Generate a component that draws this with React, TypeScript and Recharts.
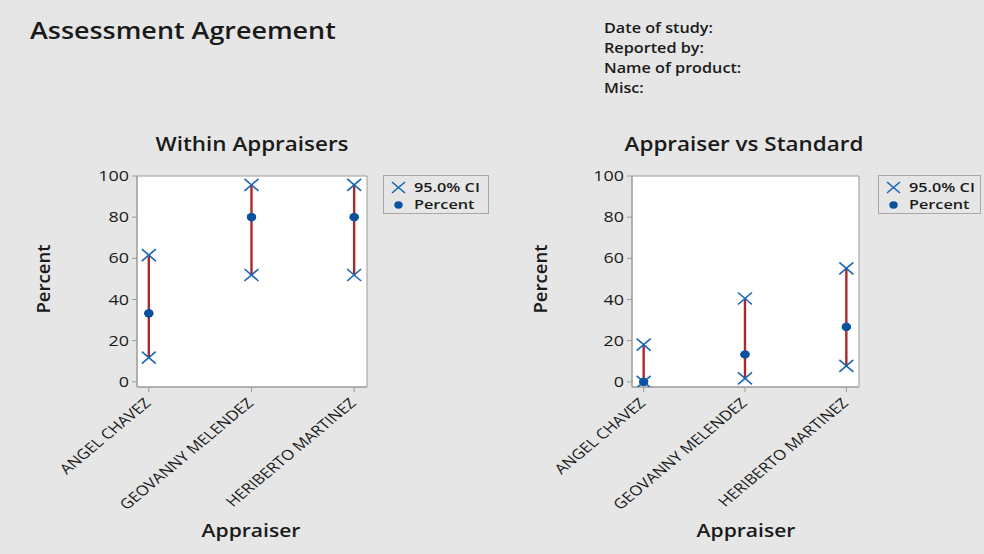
import { ComposedChart, Scatter, XAxis, YAxis, ErrorBar, ReferenceArea } from "recharts";

const appraisers = ["ANGEL CHAVEZ", "GEOVANNY MELENDEZ", "HERIBERTO MARTINEZ"];
const withinPercent = [33.3, 80.0, 80.0];
const withinLower = [11.8, 51.9, 51.9];
const withinUpper = [61.6, 95.7, 95.7];
const standardPercent = [0, 13.3, 26.7];
const standardLower = [0, 1.7, 7.8];
const standardUpper = [18.1, 40.5, 55.1];
const yTicks = [0, 20, 40, 60, 80, 100];
const infoLines = ["Date of study:", "Reported by:", "Name of product:", "Misc:"];

const FONT = "'Open Sans', 'Noto Sans', sans-serif";
const TEXT = "#1a1a1a";
const BLUE_X = "#1a64b4";
const BLUE_DOT = "#0a52a0";
const RED = "#a82a2a";
const AXIS = "#9a9a9a";

function buildPoints(pct: number[], lo: number[], hi: number[]) {
  return pct.map((p, i) => ({ x: i + 1, y: p, err: [p - lo[i], hi[i] - p] }));
}
function buildCi(lo: number[], hi: number[]) {
  return lo.flatMap((l, i) => [{ x: i + 1, y: l }, { x: i + 1, y: hi[i] }]);
}

const CrossShape = (props: any) => {
  const { cx, cy } = props;
  const sx = 7;
  const sy = 6;
  return (
    <g stroke={BLUE_X} strokeWidth={1.6}>
      <line x1={cx - sx} y1={cy - sy} x2={cx + sx} y2={cy + sy} />
      <line x1={cx - sx} y1={cy + sy} x2={cx + sx} y2={cy - sy} />
    </g>
  );
};

const DotShape = (props: any) => <ellipse cx={props.cx} cy={props.cy} rx={4.6} ry={4.1} fill={BLUE_DOT} />;

// the whole Minitab picture is stretched ~1.2x horizontally
const AppraiserTick = (props: any) => {
  const { x, y, payload } = props;
  return (
    <g transform={`translate(${x + 3},${y + 10}) scale(1.2,1) rotate(-45)`}>
      <text textAnchor="end" fontSize={14} fill={TEXT} fontFamily={FONT}>
        {appraisers[payload.value - 1]}
      </text>
    </g>
  );
};

const PercentTick = (props: any) => {
  const { x, y, payload } = props;
  return (
    <g transform={`translate(${x},${y})`}>
      <text transform="scale(1.28,1)" textAnchor="end" dy="0.36em" fontSize={14} fill={TEXT} fontFamily={FONT}>
        {payload.value}
      </text>
    </g>
  );
};

function Panel({ left, width, pct, lo, hi, marginLeft, marginRight }: any) {
  const points = buildPoints(pct, lo, hi);
  const ci = buildCi(lo, hi);
  return (
    <div style={{ position: "absolute", left, top: 0 }}>
      <ComposedChart
        width={width}
        height={554}
        margin={{ top: 176, right: marginRight, bottom: 0, left: marginLeft }}
      >
        <XAxis
          type="number"
          dataKey="x"
          domain={[0.885, 3.125]}
          ticks={[1, 2, 3]}
          allowDataOverflow
          height={167}
          tick={<AppraiserTick />}
          tickLine={{ stroke: AXIS }}
          axisLine={{ stroke: AXIS }}
          tickSize={5}
        />
        <YAxis
          type="number"
          dataKey="y"
          domain={[-2.5, 100]}
          ticks={yTicks}
          allowDataOverflow
          width={60}
          tick={<PercentTick />}
          tickLine={{ stroke: AXIS }}
          axisLine={{ stroke: AXIS }}
          tickSize={5}
          tickMargin={3}
        />
        <ReferenceArea x1={0.885} x2={3.125} y1={-2.5} y2={100} fill="#ffffff" fillOpacity={1} stroke={AXIS} />
        <Scatter data={points} dataKey="y" shape={<DotShape />} isAnimationActive={false}>
          <ErrorBar dataKey="err" direction="y" width={0} stroke={RED} strokeWidth={2.4} />
        </Scatter>
        <Scatter data={ci} dataKey="y" shape={<CrossShape />} isAnimationActive={false} />
        <Scatter data={points} dataKey="y" shape={<DotShape />} isAnimationActive={false} />
      </ComposedChart>
    </div>
  );
}

const legendText = (top: number, text: string) => (
  <div
    style={{
      position: "absolute",
      left: 30,
      top,
      lineHeight: "17px",
      whiteSpace: "nowrap",
      transform: "scaleX(1.3)",
      transformOrigin: "left center",
    }}
  >
    {text}
  </div>
);

function LegendBox({ left, width }: { left: number; width: number }) {
  return (
    <div
      style={{
        position: "absolute",
        left,
        top: 175,
        width,
        height: 39,
        boxSizing: "border-box",
        border: "1px solid #a8a8a8",
        background: "#e6e6e6",
        fontFamily: FONT,
        fontSize: 12.5,
        fontWeight: 600,
        color: TEXT,
      }}
    >
      <svg width={24} height={37} style={{ position: "absolute", left: 4, top: 0 }}>
        <g stroke={BLUE_X} strokeWidth={1.6}>
          <line x1={4} y1={6} x2={17} y2={17} />
          <line x1={4} y1={17} x2={17} y2={6} />
        </g>
        <ellipse cx={10.5} cy={29} rx={4.2} ry={3.7} fill={BLUE_DOT} />
      </svg>
      {legendText(3, "95.0% CI")}
      {legendText(20, "Percent")}
    </div>
  );
}

const centered = (x: number, y: number, size: number, text: string, scale: number, rotate = 0) => (
  <div
    style={{
      position: "absolute",
      left: x,
      top: y,
      transform: `translate(-50%, -50%) rotate(${rotate}deg) scaleX(${scale})`,
      whiteSpace: "nowrap",
      fontFamily: FONT,
      fontSize: size,
      fontWeight: 600,
      color: TEXT,
    }}
  >
    {text}
  </div>
);

export default function App() {
  return (
    <div
      style={{
        position: "absolute",
        left: 0,
        top: 0,
        width: 984,
        height: 554,
        background: "#e6e6e6",
        overflow: "hidden",
        fontFamily: FONT,
      }}
    >
      <div
        style={{
          position: "absolute",
          left: 30,
          top: 14,
          fontSize: 23,
          fontWeight: 600,
          color: TEXT,
          whiteSpace: "nowrap",
          transform: "scaleX(1.17)",
          transformOrigin: "left center",
        }}
      >
        Assessment Agreement
      </div>
      <div
        style={{
          position: "absolute",
          left: 604,
          top: 18,
          fontSize: 13.5,
          fontWeight: 600,
          color: TEXT,
          lineHeight: "20px",
          whiteSpace: "nowrap",
          transform: "scaleX(1.2)",
          transformOrigin: "left center",
        }}
      >
        {infoLines.map((l) => (
          <div key={l}>{l}</div>
        ))}
      </div>

      <Panel left={0} width={490} pct={withinPercent} lo={withinLower} hi={withinUpper} marginLeft={77} marginRight={123} />
      <Panel left={492} width={492} pct={standardPercent} lo={standardLower} hi={standardUpper} marginLeft={80} marginRight={125} />

      <LegendBox left={383} width={106} />
      <LegendBox left={878} width={103} />

      {centered(252, 144, 19, "Within Appraisers", 1.18)}
      {centered(744, 144, 19, "Appraiser vs Standard", 1.18)}
      {centered(43, 279, 18, "Percent", 1.03, -90)}
      {centered(540, 279, 18, "Percent", 1.03, -90)}
      {centered(251, 530, 18, "Appraiser", 1.17)}
      {centered(746, 530, 18, "Appraiser", 1.17)}
    </div>
  );
}
